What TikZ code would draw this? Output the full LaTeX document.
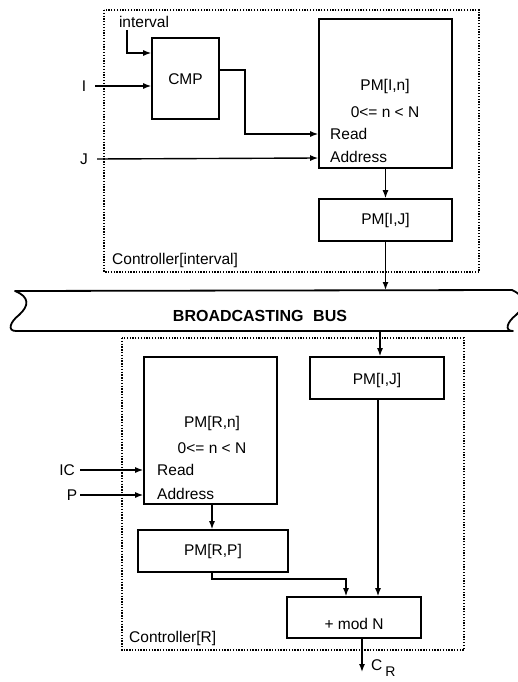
\documentclass[tikz,border=0pt]{standalone}
\usepackage{fontspec}
\setmainfont{Liberation Sans}
\usetikzlibrary{arrows.meta}
\tikzset{
  blk/.style={draw, line width=1.6pt, inner sep=0pt},
  lbl/.style={inner sep=0pt, font=\fontsize{15.5}{18}\selectfont},
  wire/.style={line width=1.4pt},
  arr/.style={wire, -{Latex[length=8pt,width=6pt]}},
  ctrl/.style={draw, line width=1.1pt, dash pattern=on 1.3pt off 1.5pt},
}
\begin{document}
\begin{tikzpicture}[x=1pt,y=-1pt]
\useasboundingbox (0,0) rectangle (518,682);

% ---------- upper controller ----------
\draw[ctrl] (104,10) rectangle (479,272);
\node[lbl, anchor=west] (ctrlI) at (112,260) {Controller[interval]};

\node[blk, minimum width=67pt, minimum height=81pt] (cmp) at (185.5,78.5) {};
\node[lbl] (cmpt) at (185.5,79) {CMP};

\node[blk, minimum width=133pt, minimum height=149pt] (pmI) at (385.5,93.5) {};
\node[lbl] (pmIt) at (385,86) {PM[I,n]};
\node[lbl] (pmIr) at (385,112) {0<= n < N};
\node[lbl, anchor=west] (pmIread) at (330,134) {Read};
\node[lbl, anchor=west] (pmIaddr) at (330,157) {Address};

\node[blk, minimum width=133pt, minimum height=42pt] (pmIJ) at (385.5,220) {};
\node[lbl] (pmIJt) at (385.5,220) {PM[I,J]};

\node[lbl] (intv) at (144,22) {interval};
\node[lbl] (inI) at (84,86) {I};
\node[lbl] (inJ) at (84,159) {J};

\coordinate (intvA) at (127,30);
\draw[arr] (intvA) |- (cmp.west |- 0,53);
\draw[arr] (inI.east) ++(9,0) -- (cmp.west |- 0,86);
\draw[arr] (inJ.east) ++(9,0) -- (pmI.west |- 0,158);
\draw[arr] (cmp.east |- 0,70) -- (245,70) |- (pmI.west |- 0,134);
\draw[arr] (pmI.south) -- (pmIJ.north);

% ---------- bus ----------
\draw[line width=1.8pt, line join=round]
  (15,291) -- (512,290)
  .. controls (527,297) and (526,306) .. (516,315)
  .. controls (507,322) and (504,331) .. (513,331)
  -- (16,331)
  .. controls (7,331) and (10,322) .. (19,315)
  .. controls (29,306) and (30,297) .. (15,291) -- cycle;
\node[inner sep=0pt, font=\fontsize{16}{18}\bfseries] (bus) at (260,316) {BROADCASTING\hspace{0.6em}BUS};
\coordinate (busTop) at (385.5,290);
\coordinate (busBot) at (380,331);
\draw[arr] (pmIJ.south) -- (busTop);

% ---------- lower controller ----------
\draw[ctrl] (122,338) rectangle (464,650);
\node[lbl, anchor=west] (ctrlR) at (129,638) {Controller[R]};

\node[blk, minimum width=133pt, minimum height=147pt] (pmR) at (210.5,430.5) {};
\node[lbl] (pmRt) at (212,423) {PM[R,n]};
\node[lbl] (pmRr) at (212,448) {0<= n < N};
\node[lbl, anchor=west] (pmRread) at (157,470) {Read};
\node[lbl, anchor=west] (pmRaddr) at (157,494) {Address};

\node[blk, minimum width=150pt, minimum height=42pt] (pmRP) at (213,551) {};
\node[lbl] (pmRPt) at (213,551) {PM[R,P]};

\node[blk, minimum width=134pt, minimum height=42pt] (pmIJb) at (377,378) {};
\node[lbl] (pmIJbt) at (377,380) {PM[I,J]};

\node[blk, minimum width=134pt, minimum height=41pt] (modN) at (354,617.5) {};
\node[lbl] (modNt) at (354,624) {+ mod N};

\node[lbl] (inIC) at (67,470) {IC};
\node[lbl] (inP) at (72,495) {P};

\draw[arr] (80,470) -- (pmR.west |- 0,470);
\draw[arr] (inP.east) ++(3,0) -- (pmR.west |- 0,495);
\draw[arr] (pmR.south -| 212,0) -- (pmRP.north -| 212,0);
\draw[arr] (pmRP.south -| 212,0) -- (212,579) -| (modN.north -| 346,0);
\draw[arr] (busBot) -- (pmIJb.north -| busBot);
\draw[arr] (pmIJb.south -| 378,0) -- (modN.north -| 378,0);

\coordinate (out) at (362,672);
\draw[arr] (modN.south -| out) -- (out);
\node[lbl, anchor=west] (cr) at (371,668) {C\hspace{3pt}\raisebox{-6pt}{\fontsize{14}{14}\selectfont R}};
\end{tikzpicture}
\end{document}
